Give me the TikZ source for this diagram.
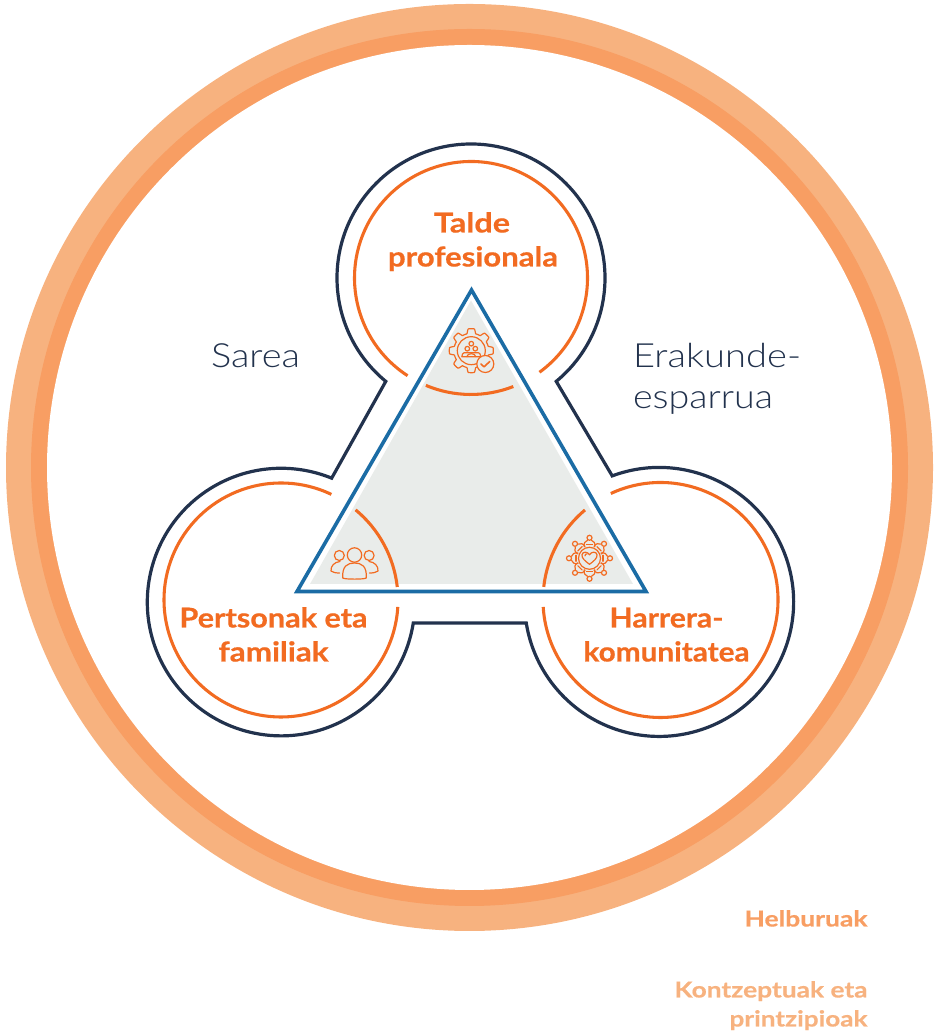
\documentclass[tikz,border=0pt]{standalone}
\usepackage{fontspec}
\usepackage{graphicx}
\setmainfont{Lato}
\newfontfamily\lightf{Lato}[UprightFont=* Light]
\newfontfamily\heavyf{Lato}[UprightFont=* Bold,FakeBold=0.5]
\definecolor{ringlight}{HTML}{F7B27F}
\definecolor{ringdark}{HTML}{F89E63}
\definecolor{navyline}{HTML}{22324D}
\definecolor{orangeline}{HTML}{F26B21}
\definecolor{blueline}{HTML}{1B6CA5}
\definecolor{grayfill}{HTML}{E9ECEA}
\tikzset{
  orangearc/.style={draw=orangeline,line width=2.3pt},
  icon/.style={draw=orangeline,line width=.9pt,line cap=round,line join=round},
}
% name, x, screen baseline y, width px, colour, text
\newcommand\lbl[6]{\node[inner sep=0pt,anchor=base,text=#5] (#1) at (#2,1034-#3) {\resizebox{\dimexpr #4pt*3/4\relax}{\height}{#6}};}
\newcommand\bigb{\fontsize{20.5}{24}\selectfont\heavyf}
\newcommand\smallb{\fontsize{16.5}{20}\selectfont\heavyf}
\newcommand\thin{\fontsize{25}{30}\selectfont\lightf}
\begin{document}
\begin{tikzpicture}[x=.75pt,y=.75pt]
\useasboundingbox (0,0) rectangle (938,1034);
% rings
\fill[ringlight] (469.5,1034-467.5) circle (463.5);
\fill[ringdark] (469.5,1034-467.5) circle (438.5);
\fill[white] (469.5,1034-467.5) circle (422.5);
% navy outline
\draw[navyline,line width=2.4pt,miter limit=10]
  (471,1034-278) ++(230.5:134) arc[start angle=230.5,end angle=-50.5,radius=134]
  -- ++(56,-94.5)
  arc[start angle=110.4,end angle=-171,radius=134.5]
  -- ++(-113,0)
  arc[start angle=-9,end angle=-292.2,radius=133.8]
  -- cycle;
% grey triangle and blue outline
\fill[grayfill] (471,1034-300.5) -- (310,1034-584) -- (633,1034-584) -- cycle;
\draw[blueline,line width=2.7pt,miter limit=10] (471.5,1034-290) -- (297,1034-591.5) -- (646,1034-591.5) -- cycle;
% orange arcs
\draw[orangearc] (471,1034-278) ++(237:116.5) arc[start angle=237,end angle=-54,radius=116.5];
\draw[orangearc] (471,1034-278) ++(247.2:116.5) arc[start angle=247.2,end angle=291.3,radius=116.5];
\draw[orangearc] (281,1034-600) ++(64.5:117) arc[start angle=64.5,end angle=356.6,radius=117];
\draw[orangearc] (281,1034-600) ++(50.4:117) arc[start angle=50.4,end angle=6.4,radius=117];
\draw[orangearc] (660.5,1034-600) ++(115:117.5) arc[start angle=115,end angle=-176.6,radius=117.5];
\draw[orangearc] (660.5,1034-600) ++(130:117.5) arc[start angle=130,end angle=173.6,radius=117.5];
% gear icon
\begin{scope}[shift={(471.3,1034-350.7)}]
  \draw[icon] plot[domain=0:360,samples=241] ({(19.7+2.3*min(1,max(-1,2.5*cos(8*\x))))*cos(\x)},{(19.7+2.3*min(1,max(-1,2.5*cos(8*\x))))*sin(\x)}) -- cycle;
  \draw[icon] (0,0) circle (14);
  \draw[icon] (0,7) circle (2.3);
  \draw[icon] (-4,2) circle (2.3);
  \draw[icon] (4,2) circle (2.3);
  \draw[icon] (-9.5,-6) .. controls (-9,-1) and (-6,-2) .. (-4,-2) .. controls (-2,-2) and (2,-2) .. (4,-2) .. controls (6,-2) and (9,-1) .. (9.5,-6) -- cycle;
  \draw[icon] (-4.5,-6) .. controls (-4,-2) and (4,-2) .. (4.5,-6);
  \filldraw[icon,fill=grayfill] (14,-13.3) circle (8.5);
  \draw[icon,line width=1.2pt] (9.6,-13.3) -- (12.8,-16.2) -- (18.4,-10.8);
\end{scope}
% people icon
\begin{scope}[shift={(354.5,1034-567)}]
  \draw[icon] (0,12) circle (7.2);
  \draw[icon] (-15.2,11.5) circle (5);
  \draw[icon] (14.6,11.5) circle (5);
  \draw[icon] (-11.8,-11) .. controls (-12.5,1) and (-7,4) .. (0,4) .. controls (7,4) and (12.5,1) .. (11.8,-11) .. controls (10,-12.5) and (-10,-12.5) .. (-11.8,-11) -- cycle;
  \draw[icon] (-14.5,5.5) .. controls (-20,5) and (-24,1) .. (-23.5,-4) .. controls (-21.5,-5.5) and (-19,-6) .. (-15,-6);
  \draw[icon] (14.5,5.5) .. controls (20,5) and (24,1) .. (23.5,-4) .. controls (21.5,-5.5) and (19,-6) .. (15,-6);
\end{scope}
% community icon
\begin{scope}[shift={(589.5,1034-558.3)}]
  \draw[icon] (0,0) circle (11);
  \foreach \a in {0,45,...,315} {
    \draw[icon] (\a:20.5) circle (2.5);
    \draw[icon,rotate=\a] (11.5,-5.2) .. controls (15,-6) and (17.2,-4.5) .. (18,-2) (11.5,5.2) .. controls (15,6) and (17.2,4.5) .. (18,2);
    \draw[icon,rotate=\a] (13.5,-3) -- (13.5,3);
  }
  \draw[icon] (0,-6) .. controls (-4,-3) and (-8,0) .. (-7.5,3.5) .. controls (-7,7) and (-2,7) .. (0,3.5) .. controls (2,7) and (7,7) .. (7.5,3.5) .. controls (8,0) and (4,-3) .. (0,-6) -- cycle;
  \draw[icon] (-4.5,2.5) .. controls (-4.5,4) and (-3.5,4.5) .. (-2.5,4.3);
\end{scope}
% labels
\lbl{talde}{472}{232.5}{76}{orangeline}{\bigb Talde}
\lbl{prof}{473}{266.5}{170}{orangeline}{\bigb profesionala}
\lbl{pert}{273.5}{627.5}{188}{orangeline}{\bigb Pertsonak eta}
\lbl{fam}{273.5}{661.5}{110}{orangeline}{\bigb familiak}
\lbl{harr}{666.5}{627.5}{114}{orangeline}{\bigb Harrera-}
\lbl{komu}{666.5}{661.5}{166}{orangeline}{\bigb komunitatea}
\lbl{sarea}{255.5}{368}{89}{navyline}{\thin Sarea}
\lbl{erak}{717}{368}{168}{navyline}{\thin Erakunde-}
\lbl{espa}{703}{409}{140}{navyline}{\thin esparrua}
\lbl{helb}{806}{926.5}{123}{ringdark}{\smallb Helburuak}
\lbl{kont}{771}{997.5}{193}{ringlight}{\smallb Kontzeptuak eta}
\lbl{prin}{798.5}{1026.5}{138}{ringlight}{\smallb printzipioak}
\end{tikzpicture}
\end{document}
